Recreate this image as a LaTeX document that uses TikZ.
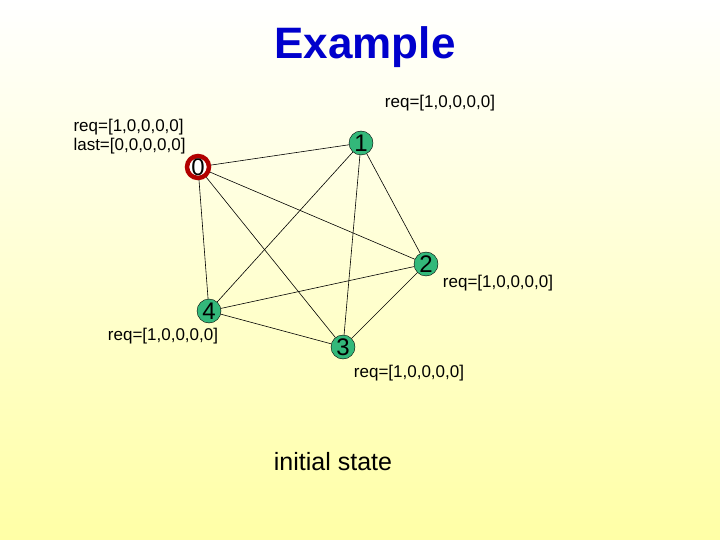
\documentclass[tikz,border=0pt]{standalone}
\usepackage{fontspec}
\setmainfont{Liberation Sans}
\begin{document}
\begin{tikzpicture}[x=1pt,y=-1pt,
  vtx/.style={circle,draw=black,fill=teal!70!green!80,minimum size=24pt,inner sep=0pt,font=\fontsize{24}{24}\selectfont},
  src/.style={circle,draw=red!70!black,line width=4.5pt,fill=white,minimum size=22pt,inner sep=0pt,font=\fontsize{24}{24}\selectfont},
  lbl/.style={font=\fontsize{17}{19}\selectfont,align=left},
  edge/.style={draw=black,line width=0.6pt}]
\shade[top color=white,bottom color=yellow!35] (0,0) rectangle (720,540);
\useasboundingbox (0,0) rectangle (720,540);
\node[font=\bfseries\fontsize{44}{48}\selectfont,text=blue!80!black] (title) at (365,47) {Example};
\node[src] (n0) at (198,167) {0};
\node[vtx] (n1) at (361,143) {1};
\node[vtx] (n2) at (426,264) {2};
\node[vtx] (n3) at (343,347) {3};
\node[vtx] (n4) at (209,311) {4};
\foreach \a/\b in {0/1,0/2,0/3,0/4,1/2,1/3,1/4,2/3,2/4,3/4}
  \draw[edge] (n\a) -- (n\b);
\node[lbl] (l1) at (440,103) {req=[1,0,0,0,0]};
\node[lbl,anchor=west] (l0) at (70,137) {req=[1,0,0,0,0]\\last=[0,0,0,0,0]};
\node[lbl] (l2) at (498,283) {req=[1,0,0,0,0]};
\node[lbl] (l4) at (163,336) {req=[1,0,0,0,0]};
\node[lbl] (l3) at (409,373) {req=[1,0,0,0,0]};
\node[font=\fontsize{25}{27}\selectfont] (cap) at (333,462) {initial state};
\end{tikzpicture}
\end{document}
